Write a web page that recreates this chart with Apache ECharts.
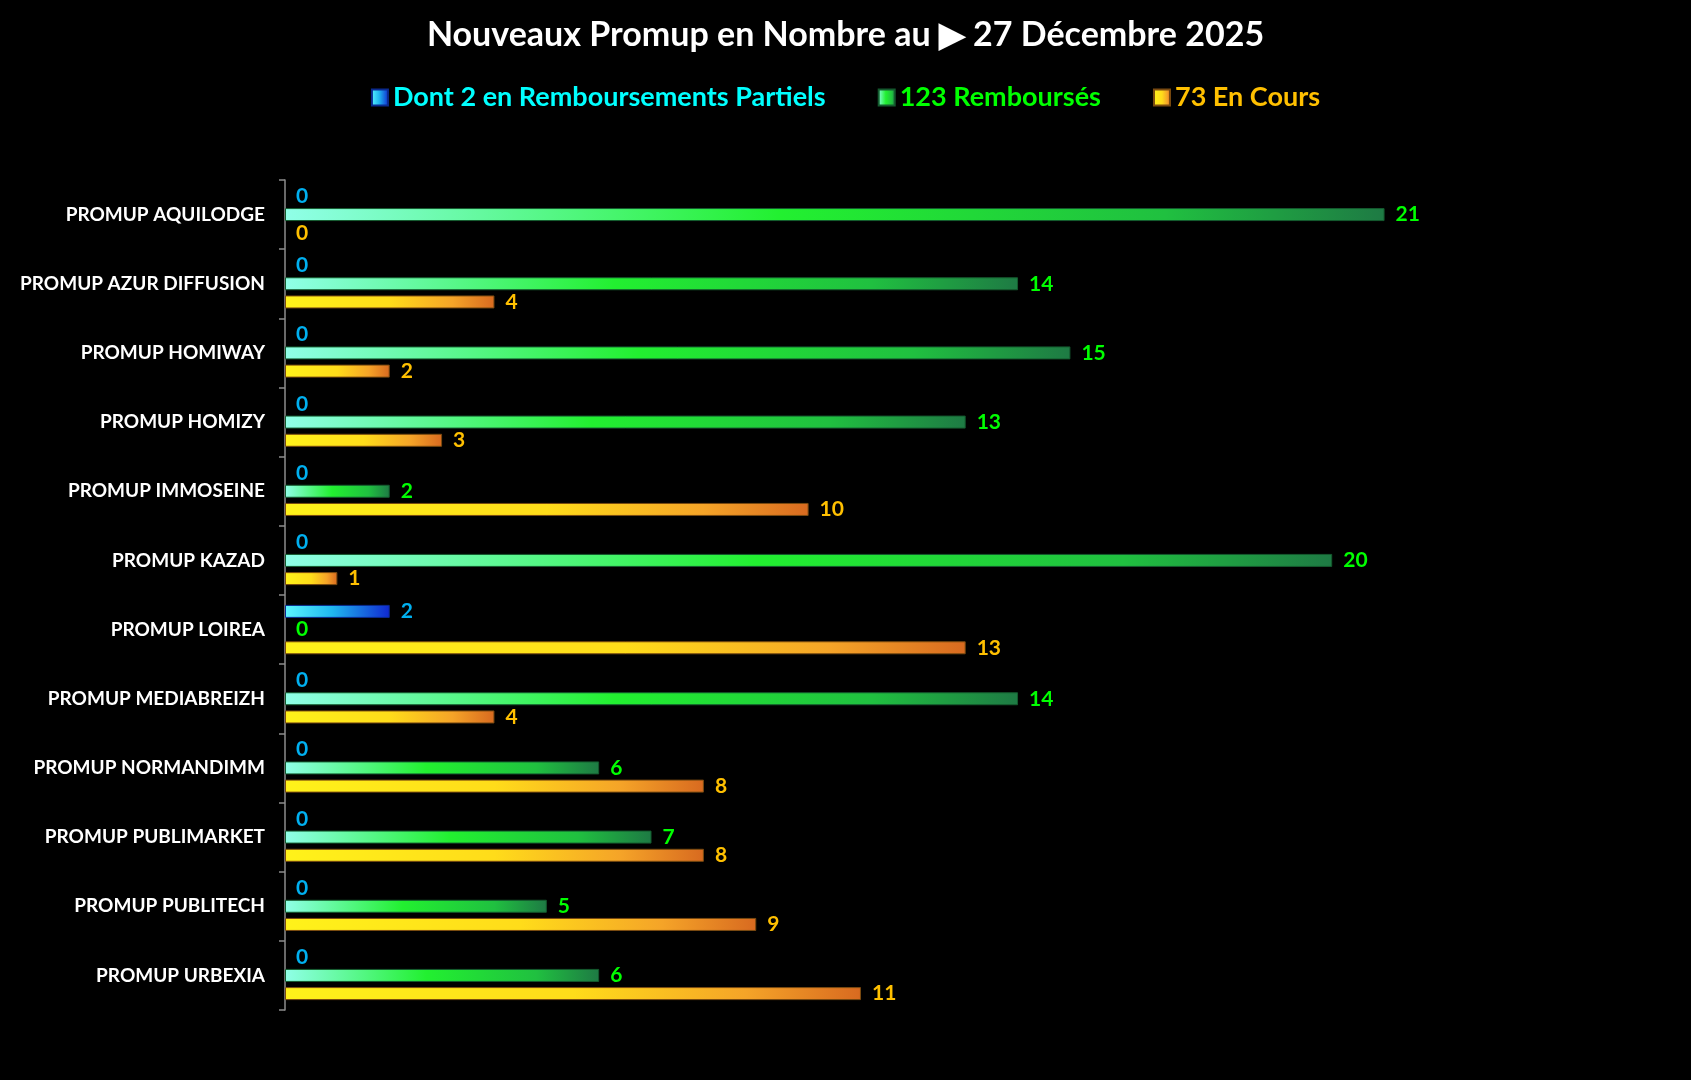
<!DOCTYPE html>
<html>
<head>
<meta charset="utf-8">
<script src="https://cdn.jsdelivr.net/npm/echarts@6/dist/echarts.min.js"></script>
<style>
html,body{margin:0;padding:0;background:#000;}
#chart{width:1691px;height:1080px;}
</style>
</head>
<body>
<div id="chart"></div>
<script>
const categories = [
  'PROMUP AQUILODGE','PROMUP AZUR DIFFUSION','PROMUP HOMIWAY','PROMUP HOMIZY',
  'PROMUP IMMOSEINE','PROMUP KAZAD','PROMUP LOIREA','PROMUP MEDIABREIZH',
  'PROMUP NORMANDIMM','PROMUP PUBLIMARKET','PROMUP PUBLITECH','PROMUP URBEXIA'
];
const partielsValues = [0,0,0,0,0,0,2,0,0,0,0,0];
const remboursesValues = [21,14,15,13,2,20,0,14,6,7,5,6];
const enCoursValues = [0,4,2,3,10,1,13,4,8,8,9,11];
const seriesNames = ['Dont 2 en Remboursements Partiels','123 Remboursés','73 En Cours'];
const titleText = 'Nouveaux Promup en Nombre au \u25B6 27 Décembre 2025';

const FONT = 'Lato, "Open Sans", sans-serif';
function grad(stops){
  return new echarts.graphic.LinearGradient(0,0,1,0, stops.map(s=>({offset:s[0],color:s[1]})));
}
const styles = [
  {grad: grad([[0,'#5CF6FF'],[0.45,'#20B8F0'],[1,'#1028D0']]), border:'#0A2A90', label:'#00B0F0', legend:'#00FFFF'},
  {grad: grad([[0,'#90FFE8'],[0.45,'#22F030'],[0.8,'#20C040'],[1,'#1E7A44']]), border:'#145A2E', label:'#00FF00', legend:'#00FF00'},
  {grad: grad([[0,'#FFF21A'],[0.5,'#FFDC1A'],[0.8,'#F5A428'],[1,'#D86A20']]), border:'#7A4A10', label:'#FFC000', legend:'#FFC000'}
];
const dataSets = [partielsValues, remboursesValues, enCoursValues];

const chart = echarts.init(document.getElementById('chart'));
chart.setOption({
  backgroundColor:'#000',
  animation:false,
  title:{
    text:titleText, left:'center', top:13,
    textStyle:{color:'#fff', fontFamily:FONT, fontWeight:'bold', fontSize:34}
  },
  legend:{
    top:79, left:'center', itemGap:52, itemWidth:16, itemHeight:16, icon:'rect',
    data: seriesNames.map((n,i)=>({name:n, textStyle:{color:styles[i].legend}})),
    textStyle:{fontFamily:FONT, fontWeight:'bold', fontSize:27}
  },
  grid:{left:285, right:97, top:180, bottom:70, containLabel:false},
  xAxis:{
    type:'value', min:0, max:25, show:false, splitLine:{show:false}
  },
  yAxis:{
    type:'category', data:categories, inverse:true,
    axisLine:{show:true, lineStyle:{color:'#8c8c8c', width:1.5}},
    axisTick:{show:true, length:6, lineStyle:{color:'#8c8c8c', width:1.5}},
    axisLabel:{color:'#fff', fontFamily:FONT, fontWeight:'bold', fontSize:19, margin:20}
  },
  series: seriesNames.map((n,i)=>({
    name:n, type:'bar',
    data:dataSets[i].map(v=>({value:v, itemStyle:{borderWidth: v>0 ? 1 : 0}})),
    barWidth:13, barGap:'40%',
    itemStyle:{color:styles[i].grad, borderColor:styles[i].border, borderWidth:1},
    label:{show:true, position:'right', distance:11, color:styles[i].label,
      fontFamily:FONT, fontWeight:'bold', fontSize:21}
  }))
});
</script>
</body>
</html>
